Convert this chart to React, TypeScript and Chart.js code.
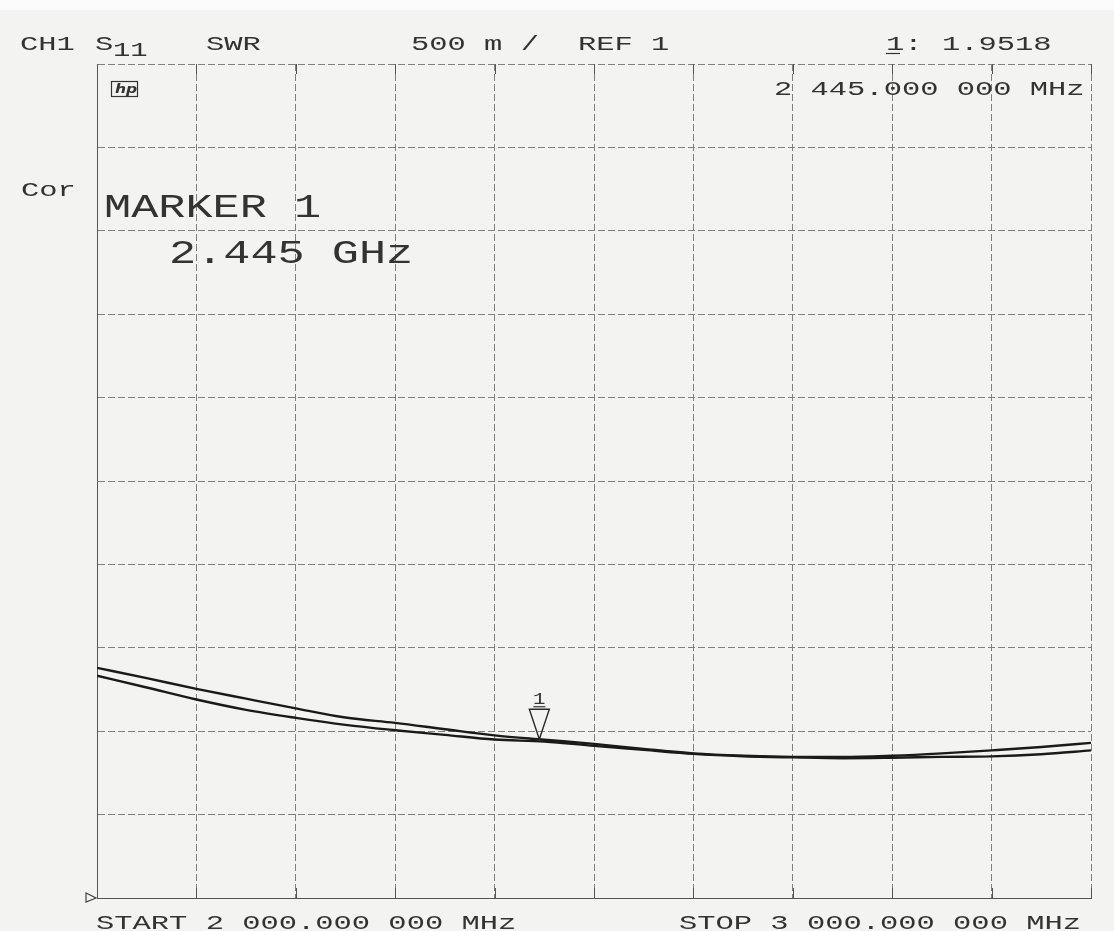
import React, { useEffect, useRef } from "react";
import { Chart, registerables } from "chart.js";

Chart.register(...registerables);

// Frequency axis (MHz) and SWR readings of the two traces
const freqMHz = [2000, 2050, 2100, 2150, 2200, 2250, 2300, 2350, 2400, 2450, 2500, 2550, 2600, 2650, 2700, 2750, 2800, 2850, 2900, 2950, 3000];
const swrUpper = [2.380, 2.318, 2.254, 2.195, 2.137, 2.082, 2.050, 2.012, 1.975, 1.949, 1.924, 1.894, 1.867, 1.853, 1.846, 1.845, 1.853, 1.867, 1.885, 1.905, 1.930];
const swrLower = [2.333, 2.262, 2.190, 2.128, 2.080, 2.038, 2.006, 1.978, 1.950, 1.938, 1.912, 1.888, 1.864, 1.850, 1.843, 1.838, 1.841, 1.846, 1.849, 1.862, 1.885];

const startMHz = 2000;
const stopMHz = 3000;
const stepMHz = 100;
const refSWR = 1;
const scaleDiv = 0.5;
const divisions = 10;

const markerFreq = 2445;
const markerValue = 1.9518;

const headerTexts = ["CH1", "S", "11", "SWR", "500 m /", "REF 1", "1:", "1.9518", "2 445.000 000 MHz", "Cor"];
const markerTexts = ["MARKER 1", "2.445 GHz"];
const footerTexts = ["START 2 000.000 000 MHz", "STOP 3 000.000 000 MHz"];

const FONT = '"Liberation Mono", "DejaVu Sans Mono", monospace';
const INK = "#333333";

function txt(ctx: CanvasRenderingContext2D, s: string, x: number, y: number, size: number, sx: number) {
  ctx.save();
  ctx.font = `${size}px ${FONT}`;
  ctx.fillStyle = INK;
  ctx.textBaseline = "alphabetic";
  ctx.textAlign = "left";
  ctx.translate(x, y);
  ctx.scale(sx, 1);
  ctx.fillText(s, 0, 0);
  ctx.restore();
}

const paperPlugin = {
  id: "paper",
  beforeDraw(chart: any) {
    const { ctx, width, height } = chart;
    ctx.save();
    ctx.fillStyle = "#f3f3f1";
    ctx.fillRect(0, 0, width, height);
    ctx.fillStyle = "#fbfbfb";
    ctx.fillRect(0, 0, width, 10);
    ctx.restore();
  },
};

const annotPlugin = {
  id: "annot",
  afterDraw(chart: any) {
    const { ctx, chartArea } = chart;
    const xs = chart.scales.x;
    const ys = chart.scales.y;
    const S = 21, SX = 1.45;
    const L = 33, LX = 1.37;

    // inward solid tick marks on top/bottom edges
    ctx.save();
    ctx.strokeStyle = "#555";
    ctx.lineWidth = 1;
    for (let f = startMHz; f <= stopMHz; f += stepMHz) {
      const px = Math.round(xs.getPixelForValue(f)) + 0.5;
      ctx.beginPath();
      ctx.moveTo(px, chartArea.top);
      ctx.lineTo(px, chartArea.top + 10);
      ctx.moveTo(px, chartArea.bottom);
      ctx.lineTo(px, chartArea.bottom - 10);
      ctx.stroke();
    }
    ctx.restore();

    // header
    txt(ctx, headerTexts[0], 20, 50, S, SX);
    txt(ctx, headerTexts[1], 95, 50, S, SX);
    txt(ctx, headerTexts[2], 113, 56, S, SX * 0.95);
    txt(ctx, headerTexts[3], 206, 50, S, SX);
    txt(ctx, headerTexts[4], 411, 50, S, SX);
    txt(ctx, headerTexts[5], 578, 50, S, SX);
    txt(ctx, headerTexts[6], 886, 50, S, SX);
    ctx.save();
    ctx.strokeStyle = INK;
    ctx.lineWidth = 1.2;
    ctx.beginPath();
    ctx.moveTo(886, 53.5);
    ctx.lineTo(900, 53.5);
    ctx.stroke();
    ctx.restore();
    txt(ctx, headerTexts[7], 942, 50, S, SX);
    txt(ctx, headerTexts[8], 774, 95, S, SX);
    txt(ctx, headerTexts[9], 21, 196, S, SX);

    // hp logo
    ctx.save();
    ctx.strokeStyle = INK;
    ctx.lineWidth = 1.2;
    ctx.strokeRect(111.5, 81.5, 26, 15);
    ctx.font = `italic bold 13px "DejaVu Sans", sans-serif`;
    ctx.fillStyle = INK;
    ctx.translate(115, 93);
    ctx.scale(1.2, 1);
    ctx.fillText("hp", 0, 0);
    ctx.restore();

    // marker readout
    txt(ctx, markerTexts[0], 104, 217, L, LX);
    txt(ctx, markerTexts[1], 169, 263, L, LX);

    // footer
    txt(ctx, footerTexts[0], 96, 929, S, SX);
    txt(ctx, footerTexts[1], 679, 929, S, SX);

    // marker triangle on trace
    const mx = xs.getPixelForValue(markerFreq);
    const my = ys.getPixelForValue(markerValue);
    ctx.save();
    ctx.strokeStyle = "#2a2a2a";
    ctx.lineWidth = 1.4;
    ctx.beginPath();
    ctx.moveTo(mx, my);
    ctx.lineTo(mx - 10, my - 30);
    ctx.lineTo(mx + 10, my - 30);
    ctx.closePath();
    ctx.stroke();
    ctx.restore();
    ctx.save();
    ctx.font = `16px ${FONT}`;
    ctx.fillStyle = INK;
    ctx.textAlign = "center";
    ctx.translate(mx, my - 35);
    ctx.scale(1.3, 1);
    ctx.fillText("1", 0, 0);
    ctx.restore();
    ctx.save();
    ctx.strokeStyle = INK;
    ctx.lineWidth = 1.2;
    ctx.beginPath();
    ctx.moveTo(mx - 6, my - 32.5);
    ctx.lineTo(mx + 6, my - 32.5);
    ctx.stroke();
    ctx.restore();

    // reference position marker
    const ry = ys.getPixelForValue(refSWR);
    ctx.save();
    ctx.strokeStyle = "#444";
    ctx.lineWidth = 1.2;
    ctx.beginPath();
    ctx.moveTo(chartArea.left - 11, ry - 5);
    ctx.lineTo(chartArea.left - 1, ry);
    ctx.lineTo(chartArea.left - 11, ry + 4);
    ctx.closePath();
    ctx.stroke();
    ctx.restore();
  },
};

export default function App() {
  const ref = useRef<HTMLCanvasElement | null>(null);
  useEffect(() => {
    if (!ref.current) return;
    const toPts = (vals: number[]) => freqMHz.map((f, i) => ({ x: f, y: vals[i] }));
    const chart = new Chart(ref.current, {
      type: "line",
      data: {
        datasets: [
          { data: toPts(swrUpper), borderColor: "#1a1a1a", borderWidth: 2.4, pointRadius: 0, cubicInterpolationMode: "monotone", fill: false },
          { data: toPts(swrLower), borderColor: "#1a1a1a", borderWidth: 2.4, pointRadius: 0, cubicInterpolationMode: "monotone", fill: false },
        ],
      },
      options: {
        responsive: false,
        animation: false,
        events: [],
        layout: { padding: { left: 97, right: 23, top: 64, bottom: 33 } },
        plugins: { legend: { display: false }, tooltip: { enabled: false }, title: { display: false } },
        scales: {
          x: {
            type: "linear",
            min: startMHz,
            max: stopMHz,
            ticks: { display: false, stepSize: stepMHz },
            grid: { color: "#808080", lineWidth: 1, drawTicks: false },
            border: { display: true, color: "#555", width: 1, dash: [7, 3] },
          },
          y: {
            type: "linear",
            min: refSWR,
            max: refSWR + scaleDiv * divisions,
            ticks: { display: false, stepSize: scaleDiv },
            grid: { color: "#808080", lineWidth: 1, drawTicks: false },
            border: { display: true, color: "#555", width: 1, dash: [7, 3] },
          },
        },
      },
      plugins: [paperPlugin, annotPlugin],
    });
    return () => chart.destroy();
  }, []);
  return (
    <canvas
      ref={ref}
      width={1114}
      height={931}
      style={{ position: "absolute", left: 0, top: 0, display: "block" }}
    />
  );
}
